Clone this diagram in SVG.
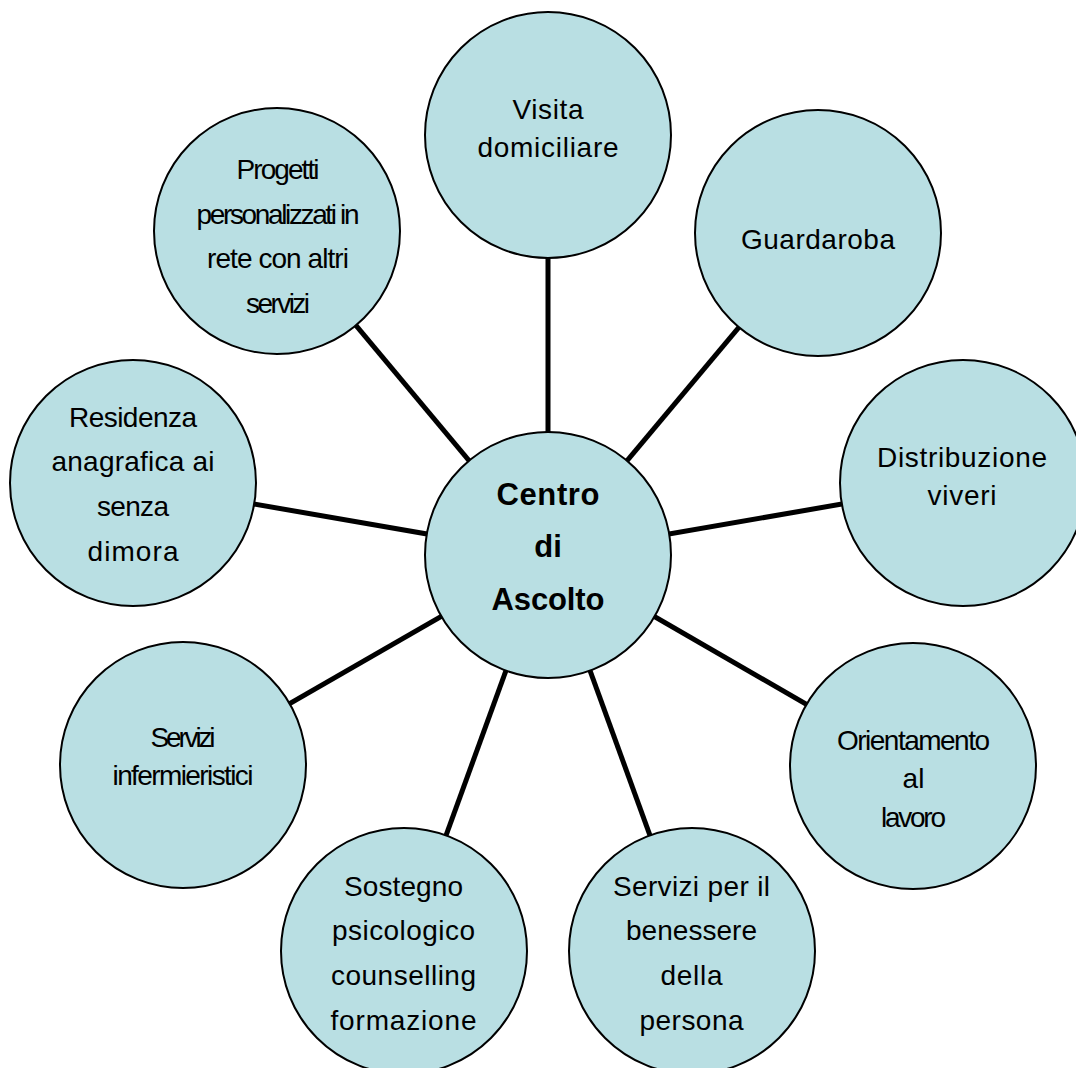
<svg xmlns="http://www.w3.org/2000/svg" width="1076" height="1068" viewBox="0 0 1076 1068">
<style>
.node{fill:#B9DFE3;stroke:#000;stroke-width:2}
.conn{stroke:#000;stroke-width:5;fill:none}
text{font-family:"Liberation Sans",Arial,sans-serif;font-size:28px;fill:#000;text-anchor:middle}
.bold{font-weight:bold;font-size:31px}
</style>
<rect width="1076" height="1068" fill="#fff"/>
<g id="connectors">
<line class="conn" x1="548" y1="555" x2="548" y2="135"/>
<line class="conn" x1="548" y1="555" x2="818" y2="233"/>
<line class="conn" x1="548" y1="555" x2="963" y2="483"/>
<line class="conn" x1="548" y1="555" x2="913" y2="766"/>
<line class="conn" x1="548" y1="555" x2="692" y2="951"/>
<line class="conn" x1="548" y1="555" x2="404" y2="951"/>
<line class="conn" x1="548" y1="555" x2="183" y2="765"/>
<line class="conn" x1="548" y1="555" x2="133" y2="483"/>
<line class="conn" x1="548" y1="555" x2="277" y2="231"/>
</g>
<g id="node-centro">
<circle class="node" cx="548" cy="555" r="123"/>
<text class="bold" x="548" y="505" textLength="103" lengthAdjust="spacing">Centro</text>
<text class="bold" x="548" y="557">di</text>
<text class="bold" x="548" y="610" textLength="113" lengthAdjust="spacing">Ascolto</text>
</g>
<g id="node-visita">
<circle class="node" cx="548" cy="135" r="123"/>
<text x="548" y="119" textLength="71" lengthAdjust="spacing">Visita</text>
<text x="548" y="157" textLength="141" lengthAdjust="spacing">domiciliare</text>
</g>
<g id="node-guardaroba">
<circle class="node" cx="818" cy="233" r="123"/>
<text x="818" y="249" textLength="154" lengthAdjust="spacing">Guardaroba</text>
</g>
<g id="node-distribuzione">
<circle class="node" cx="963" cy="483" r="123"/>
<text x="962" y="467" textLength="170" lengthAdjust="spacing">Distribuzione</text>
<text x="962" y="505" textLength="69" lengthAdjust="spacing">viveri</text>
</g>
<g id="node-orientamento">
<circle class="node" cx="913" cy="766" r="123"/>
<text x="913.5" y="750" textLength="153" lengthAdjust="spacing">Orientamento</text>
<text x="913.5" y="788">al</text>
<text x="913.5" y="827" textLength="65" lengthAdjust="spacing">lavoro</text>
</g>
<g id="node-benessere">
<circle class="node" cx="692" cy="951" r="123"/>
<text x="691.5" y="896" textLength="157" lengthAdjust="spacing">Servizi per il</text>
<text x="691.5" y="940" textLength="131" lengthAdjust="spacing">benessere</text>
<text x="691.5" y="985" textLength="62" lengthAdjust="spacing">della</text>
<text x="691.5" y="1030" textLength="104" lengthAdjust="spacing">persona</text>
</g>
<g id="node-sostegno">
<circle class="node" cx="404" cy="951" r="123"/>
<text x="403.5" y="896" textLength="119" lengthAdjust="spacing">Sostegno</text>
<text x="403.5" y="940" textLength="143" lengthAdjust="spacing">psicologico</text>
<text x="403.5" y="985" textLength="145" lengthAdjust="spacing">counselling</text>
<text x="403.5" y="1030" textLength="146" lengthAdjust="spacing">formazione</text>
</g>
<g id="node-infermieristici">
<circle class="node" cx="183" cy="765" r="123"/>
<text x="183" y="747" textLength="65" lengthAdjust="spacing">Servizi</text>
<text x="183" y="785" textLength="141" lengthAdjust="spacing">infermieristici</text>
</g>
<g id="node-residenza">
<circle class="node" cx="133" cy="483" r="123"/>
<text x="133" y="427" textLength="128" lengthAdjust="spacing">Residenza</text>
<text x="133" y="471" textLength="163" lengthAdjust="spacing">anagrafica ai</text>
<text x="133" y="516" textLength="72" lengthAdjust="spacing">senza</text>
<text x="133" y="561" textLength="91" lengthAdjust="spacing">dimora</text>
</g>
<g id="node-progetti">
<circle class="node" cx="277" cy="231" r="123"/>
<text x="278" y="179" textLength="83" lengthAdjust="spacing">Progetti</text>
<text x="278" y="224" textLength="163" lengthAdjust="spacing">personalizzati in</text>
<text x="278" y="268" textLength="142" lengthAdjust="spacing">rete con altri</text>
<text x="278" y="313" textLength="64" lengthAdjust="spacing">servizi</text>
</g>
</svg>
